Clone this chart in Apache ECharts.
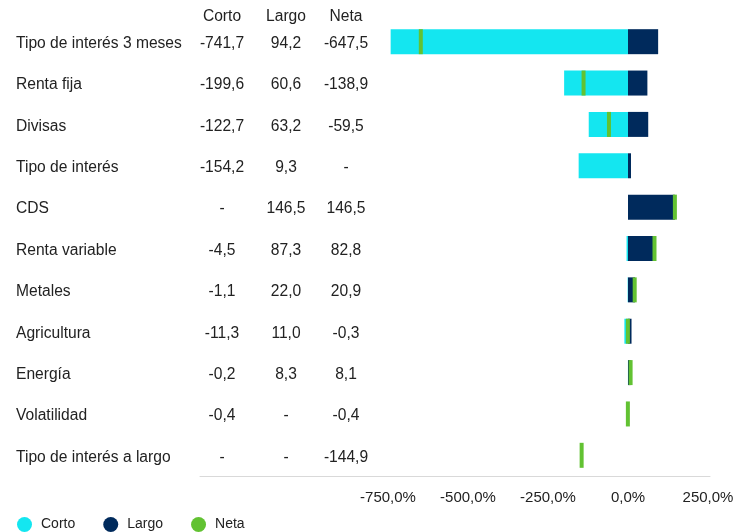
<!DOCTYPE html>
<html>
<head>
<meta charset="utf-8">
<script src="https://cdn.jsdelivr.net/npm/echarts@6/dist/echarts.min.js"></script>
<style>
html,body{margin:0;padding:0;background:#fff;}
#main{width:749px;height:532px;}
</style>
</head>
<body>
<div id="main"></div>
<script>
const categories = ['Tipo de interés 3 meses','Renta fija','Divisas','Tipo de interés','CDS','Renta variable','Metales','Agricultura','Energía','Volatilidad','Tipo de interés a largo'];
const corto = [-741.7, -199.6, -122.7, -154.2, null, -4.5, -1.1, -11.3, -0.2, -0.4, null];
const largo = [94.2, 60.6, 63.2, 9.3, 146.5, 87.3, 22.0, 11.0, 8.3, null, null];
const neta = [-647.5, -138.9, -59.5, null, 146.5, 82.8, 20.9, -0.3, 8.1, -0.4, -144.9];
const xTicks = [-750, -500, -250, 0, 250];
const headers = ['Corto', 'Largo', 'Neta'];

const FONT = '"Liberation Sans", Arial, sans-serif';
const TXT = '#222';
const FS = 15.6;
const fmt = v => (v == null ? '-' : v.toFixed(1).replace('.', ','));
const base = {fontSize: FS, color: TXT, fontFamily: FONT, fontWeight: 'normal', padding: [4, 0, 0, 0]};
const rich = {
  nm: Object.assign({width: 180, align: 'left'}, base),
  c: Object.assign({width: 52, align: 'center'}, base),
  l: Object.assign({width: 76, align: 'center'}, base),
  n: Object.assign({width: 44, align: 'center'}, base)
};

const chart = echarts.init(document.getElementById('main'), null, {renderer: 'canvas'});
chart.setOption({
  animation: false,
  textStyle: {fontFamily: FONT},
  title: {
    left: 16, top: 5, padding: 0,
    text: '{nm| }{c|' + headers[0] + '}{l|' + headers[1] + '}{n|' + headers[2] + '}',
    textStyle: {rich: rich, fontWeight: 'normal'}
  },
  legend: {
    left: 12, top: 512,
    icon: 'circle',
    itemWidth: 15, itemHeight: 15, itemGap: 28,
    textStyle: {fontSize: 14, color: TXT, fontFamily: FONT, padding: [0, 0, 0, 4]},
    data: ['Corto', 'Largo', 'Neta']
  },
  grid: [
    {left: 388, right: 41, top: 21, bottom: 56},
    {left: 200, right: 39, top: 21, bottom: 56}
  ],
  xAxis: [
    {
      type: 'value', gridIndex: 0, min: xTicks[0], max: xTicks[xTicks.length - 1], interval: 250,
      axisLine: {show: false}, axisTick: {show: false}, splitLine: {show: false},
      axisLabel: {
        margin: 14, fontSize: 15, color: TXT, fontFamily: FONT,
        formatter: v => v.toFixed(1).replace('.', ',') + '%'
      }
    },
    {
      type: 'value', gridIndex: 1, min: 0, max: 1,
      axisLine: {show: true, lineStyle: {color: '#d9d9d9', width: 1}},
      axisTick: {show: false}, axisLabel: {show: false}, splitLine: {show: false}
    }
  ],
  yAxis: [
    {
      type: 'category', gridIndex: 0, data: categories, inverse: true,
      axisLine: {show: false}, axisTick: {show: false}, splitLine: {show: false},
      axisLabel: {
        margin: 20,
        formatter: (v, i) => '{nm|' + v + '}{c|' + fmt(corto[i]) + '}{l|' + fmt(largo[i]) + '}{n|' + fmt(neta[i]) + '}',
        rich: rich
      }
    },
    {
      type: 'category', gridIndex: 1, data: categories, inverse: true, show: false
    }
  ],
  series: [
    {
      name: 'Corto', type: 'bar', data: corto, barWidth: 25, barGap: '-100%',
      itemStyle: {color: '#14e6f0'}, xAxisIndex: 0, yAxisIndex: 0
    },
    {
      name: 'Largo', type: 'bar', data: largo, barWidth: 25, barGap: '-100%',
      itemStyle: {color: '#002a5c'}, xAxisIndex: 0, yAxisIndex: 0
    },
    {
      name: 'Neta', type: 'scatter', data: neta, symbol: 'rect', symbolSize: [4, 25],
      itemStyle: {color: '#62c232', opacity: 1}, xAxisIndex: 0, yAxisIndex: 0, z: 5
    }
  ]
});
</script>
</body>
</html>
